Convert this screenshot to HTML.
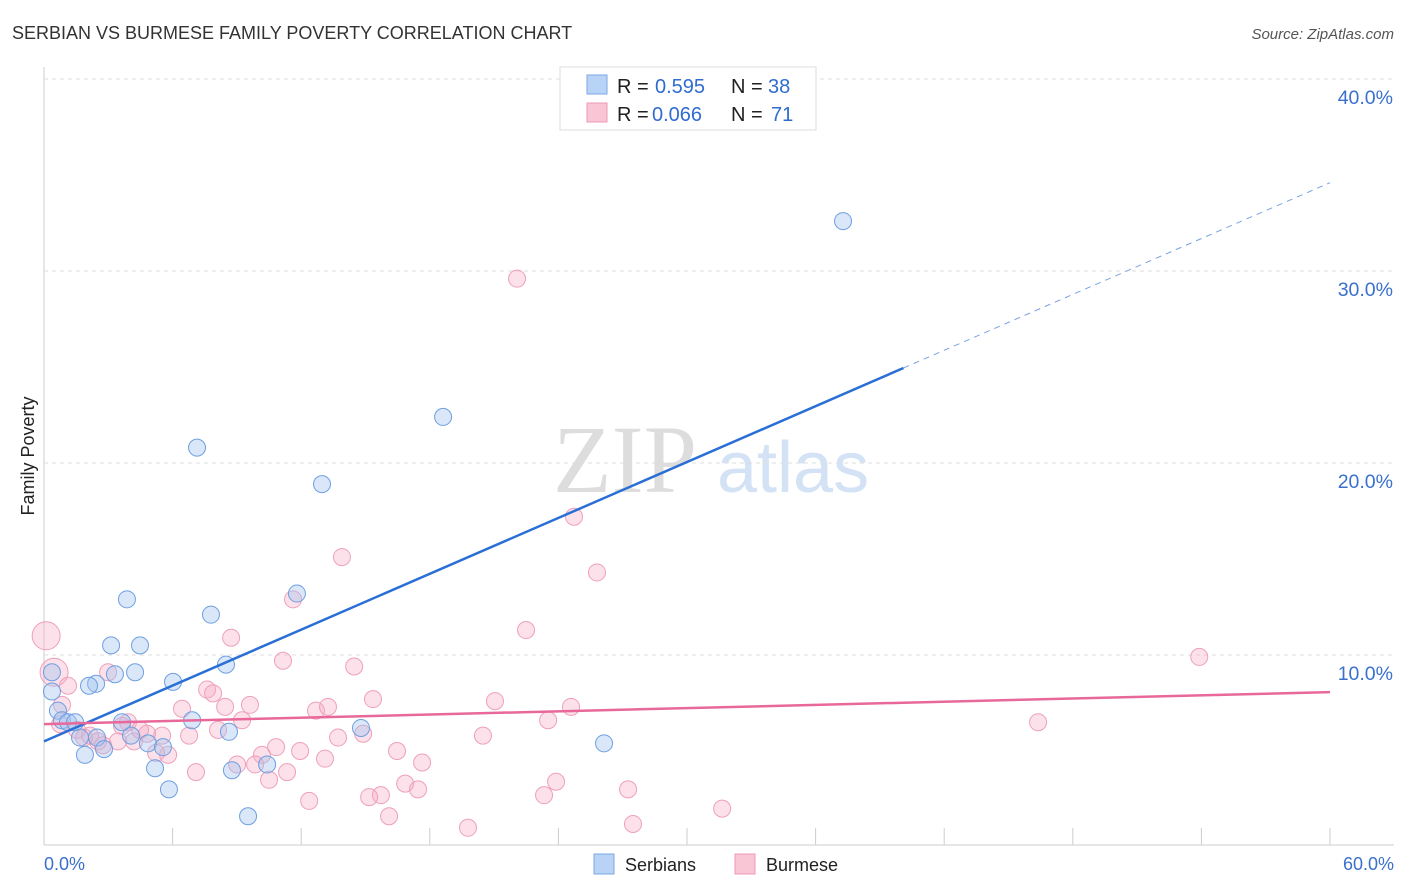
<!DOCTYPE html>
<html><head><meta charset="utf-8"><style>
body{margin:0;background:#fff;font-family:"Liberation Sans",sans-serif;}
svg{display:block}
</style></head><body>
<svg id="c" width="1406" height="892">
<text x="12" y="39" font-size="18" fill="#333">SERBIAN VS BURMESE FAMILY POVERTY CORRELATION CHART</text>
<text x="1394" y="39" font-size="15" font-style="italic" fill="#555" text-anchor="end">Source: ZipAtlas.com</text>
<text x="553" y="492" font-size="96" font-family="Liberation Serif,serif" fill="#ddd">ZIP</text>
<text x="717" y="492" font-size="72" fill="#d3e2f4">atlas</text>
<text transform="translate(34,456) rotate(-90)" font-size="18" fill="#222" text-anchor="middle">Family Poverty</text>
<g id="grid"></g><g id="pts"></g><g id="lines"></g>
<g>
<rect x="560" y="67" width="256" height="63" fill="#fff" stroke="#ddd"/>
<rect x="587" y="75" width="20" height="19" fill="#b8d3f5" stroke="#7aa8e6"/>
<rect x="587" y="103" width="20" height="19" fill="#f8c6d5" stroke="#ec9ab6"/>
<text x="617" y="93" font-size="20" fill="#222">R =</text>
<text x="655" y="93" font-size="20" fill="#2f6cd0">0.595</text>
<text x="731" y="93" font-size="20" fill="#222">N =</text>
<text x="768" y="93" font-size="20" fill="#2f6cd0">38</text>
<text x="617" y="121" font-size="20" fill="#222">R =</text>
<text x="652" y="121" font-size="20" fill="#2f6cd0">0.066</text>
<text x="731" y="121" font-size="20" fill="#222">N =</text>
<text x="771" y="121" font-size="20" fill="#2f6cd0">71</text>
</g>
<g>
<rect x="594" y="854" width="20" height="20" fill="#b8d3f5" stroke="#7aa8e6"/>
<text x="625" y="871" font-size="18" fill="#222">Serbians</text>
<rect x="735" y="854" width="20" height="20" fill="#f8c6d5" stroke="#ec9ab6"/>
<text x="766" y="871" font-size="18" fill="#222">Burmese</text>
</g>
<text x="44" y="870" font-size="18" fill="#3a70cc">0.0%</text>
<text x="1394" y="870" font-size="18" fill="#3a70cc" text-anchor="end">60.0%</text>
</svg>
<script>
const yTicks=[10,20,30,40];
const serX=[37.28,18.62,7.14,12.97,11.8,3.87,7.79,3.13,4.48,8.49,4.25,3.31,0.37,2.43,2.10,6.02,0.37,0.65,0.84,1.12,1.45,6.91,3.64,8.63,14.79,2.47,1.68,4.06,4.85,5.55,2.80,1.91,26.13,5.18,10.41,8.77,5.83,9.52];
const serY=[32.6,22.4,20.8,18.9,13.2,12.9,12.1,10.5,10.5,9.5,9.1,9.0,9.1,8.5,8.4,8.6,8.1,7.1,6.6,6.5,6.5,6.6,6.5,6.0,6.2,5.7,5.7,5.8,5.4,5.2,5.1,4.8,5.4,4.1,4.3,4.0,3.0,1.6];
const burX=[22.07,24.73,13.90,25.80,11.62,22.49,8.73,0.1,0.47,11.15,14.47,53.9,1.12,0.84,7.61,7.89,9.61,15.35,21.04,24.59,6.44,8.45,12.69,13.25,46.38,23.52,9.24,3.92,2.99,1.54,2.15,4.81,5.51,6.77,8.12,20.48,13.72,14.89,2.52,3.45,4.20,10.83,11.95,16.47,10.17,5.79,5.23,13.11,17.64,9.01,9.85,7.09,11.34,10.50,16.85,23.89,17.45,27.25,15.72,15.17,23.33,12.37,31.64,16.10,27.48,19.78,2.75,1.87,4.48,0.75,3.64];
const burY=[29.6,17.2,15.1,14.3,12.9,11.3,10.9,11.0,9.1,9.7,9.4,9.9,8.4,7.4,8.2,8.0,7.4,7.7,7.6,7.3,7.2,7.3,7.1,7.3,6.5,6.6,6.6,6.5,9.1,6.1,5.8,5.9,5.8,5.8,6.1,5.8,5.7,5.9,5.5,5.5,5.5,5.2,5.0,5.0,4.8,4.8,4.9,4.6,4.4,4.3,4.3,3.9,3.9,3.5,3.3,3.4,3.0,3.0,2.7,2.6,2.7,2.4,2.0,1.6,1.2,1.0,5.3,5.7,6.1,6.4,6.3];
const serTrend=[5.5,0.485];
const burTrend=[6.4,0.0278];
const NS='http://www.w3.org/2000/svg';
const X=v=>44+v/60*1286, Y=v=>847-v*19.2;
function mk(p,t,a){const e=document.createElementNS(NS,t);for(const k in a)e.setAttribute(k,a[k]);p.appendChild(e);return e;}
const grid=document.getElementById('grid');
mk(grid,'line',{x1:44,y1:67,x2:44,y2:845,stroke:'#ccc'});
mk(grid,'line',{x1:44,y1:845,x2:1394,y2:845,stroke:'#ccc'});
for(let i=0;i<=10;i++){const l=mk(grid,'line',{x1:X(i*6),y1:828,x2:X(i*6),y2:845,stroke:'#ccc'});

}
yTicks.forEach(t=>{const l=mk(grid,'line',{x1:44,y1:Y(t),x2:1394,y2:Y(t),stroke:'#ddd','stroke-dasharray':'4,4'});


const tx=mk(grid,'text',{x:1393,y:Y(t)+25,'font-size':19.5,fill:'#3a70cc','text-anchor':'end'});tx.textContent=t.toFixed(1)+'%';

});
const pts=document.getElementById('pts');
burX.forEach((x,i)=>{const r=(x<0.5)?14:8.5;const c=mk(pts,'circle',{cx:X(x),cy:Y(burY[i]),r:r,fill:'rgba(245,170,195,0.35)',stroke:'#eea0bb','stroke-width':1});

});
serX.forEach((x,i)=>{const c=mk(pts,'circle',{cx:X(x),cy:Y(serY[i]),r:8.5,fill:'rgba(160,195,240,0.4)',stroke:'#6f9fe0','stroke-width':1});

});
const lines=document.getElementById('lines');
const xe=40.1;
let l1=mk(lines,'line',{x1:X(0),y1:Y(serTrend[0]),x2:X(xe),y2:Y(serTrend[0]+serTrend[1]*xe),stroke:'#2a6fd6','stroke-width':2.5});


let l2=mk(lines,'line',{x1:X(xe),y1:Y(serTrend[0]+serTrend[1]*xe),x2:X(60),y2:Y(serTrend[0]+serTrend[1]*60),stroke:'#7aa3e0','stroke-width':1,'stroke-dasharray':'6,5'});


let l3=mk(lines,'line',{x1:X(0),y1:Y(burTrend[0]),x2:X(60),y2:Y(burTrend[0]+burTrend[1]*60),stroke:'#e8689a','stroke-width':2.5});


</script>
</body></html>
